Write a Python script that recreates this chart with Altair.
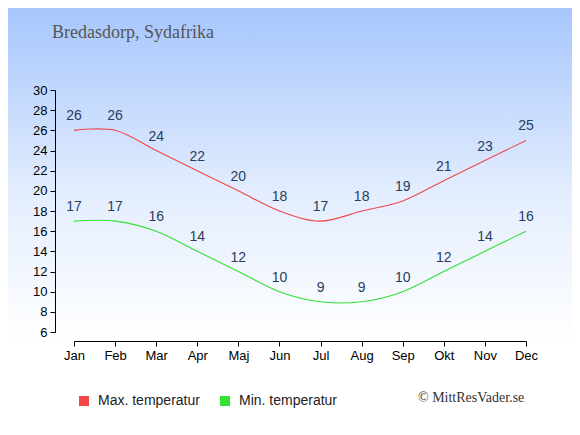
import altair as alt
import pandas as pd

months = ["Jan", "Feb", "Mar", "Apr", "Maj", "Jun", "Jul", "Aug", "Sep", "Okt", "Nov", "Dec"]
max_temp = [26, 26, 24, 22, 20, 18, 17, 18, 19, 21, 23, 25]
min_temp = [17, 17, 16, 14, 12, 10, 9, 9, 10, 12, 14, 16]
series_names = ["Max. temperatur", "Min. temperatur"]
series_colors = ["#f04848", "#33e033"]
y_ticks = list(range(6, 31, 2))
title_text = "Bredasdorp, Sydafrika"
credit_text = "© MittResVader.se"

rows = []
for m, a, b in zip(months, max_temp, min_temp):
    rows.append({"month": m, "series": series_names[0], "legend": series_names[0], "temp": a})
    rows.append({"month": m, "series": series_names[1], "legend": series_names[1], "temp": b})
df = pd.DataFrame(rows)

W, H = 452, 242
PL, PT, PR, PB = 66, 82, 46, 95

xaxis = alt.Axis(title=None, labelAngle=0, offset=9, tickSize=5, labelPadding=3,
                 domainColor="black", tickColor="black", labelColor="black",
                 labelFont="Liberation Sans", labelFontSize=13, grid=False, zindex=2,
                 labelOverlap=False)
yaxis = alt.Axis(title=None, values=y_ticks, offset=19, tickSize=5, labelPadding=3,
                 domainColor="black", tickColor="black", labelColor="black",
                 labelFont="Liberation Sans", labelFontSize=13, grid=False, zindex=2,
                 labelOverlap=False, labelFlush=False)
xenc = alt.X("month:N", sort=months, scale=alt.Scale(type="point", padding=0), axis=xaxis)
yenc = alt.Y("temp:Q", scale=alt.Scale(domain=[6, 30], nice=False, zero=False), axis=yaxis)

bg = alt.Chart(pd.DataFrame({"a": [0]})).mark_rect(
    fill={"gradient": "linear", "x1": 0, "y1": 0, "x2": 0, "y2": 1,
          "stops": [{"offset": 0, "color": "#a6c6fc"},
                    {"offset": 0.45, "color": "#e4eefe"},
                    {"offset": 0.8, "color": "#ffffff"},
                    {"offset": 1, "color": "#ffffff"}]}
).encode(x=alt.value(-PL), x2=alt.value(W + PR), y=alt.value(-PT), y2=alt.value(H + PB))

base = alt.Chart(df)

lines = base.mark_line(interpolate="cardinal", strokeWidth=1.1).encode(
    x=xenc, y=yenc,
    stroke=alt.Stroke("series:N", scale=alt.Scale(domain=series_names, range=series_colors), legend=None),
    detail="series:N",
)

legend_layer = base.mark_square(size=0, filled=True).encode(
    x=xenc, y=yenc,
    fill=alt.Fill("legend:N", scale=alt.Scale(domain=series_names, range=series_colors),
                  legend=alt.Legend(title=None, orient="none", legendX=3, legendY=304,
                                    direction="horizontal", symbolType="square", symbolSize=100,
                                    symbolOpacity=1, symbolStrokeWidth=0, labelFont="Liberation Sans",
                                    labelFontSize=14, labelColor="#222222", labelOffset=7,
                                    columnPadding=18, padding=0, zindex=2)),
)

labels = base.mark_text(dy=-14, baseline="middle", align="center", font="Liberation Sans",
                        fontSize=14, color="#2b3d5e").encode(
    x=xenc, y=yenc, text="temp:Q")

title = alt.Chart(pd.DataFrame({"t": [title_text]})).mark_text(
    align="left", baseline="alphabetic", font="Liberation Serif", fontSize=18, color="#555555"
).encode(x=alt.value(52 - 74), y=alt.value(38 - 90), text="t:N")

credit = alt.Chart(pd.DataFrame({"t": [credit_text]})).mark_text(
    align="left", baseline="alphabetic", font="Liberation Serif", fontSize=14, color="#333333"
).encode(x=alt.value(418 - 74), y=alt.value(402 - 90), text="t:N")

chart = alt.layer(bg, lines, legend_layer, labels, title, credit).properties(
    width=W, height=H,
    autosize=alt.AutoSizeParams(type="none"),
    padding={"left": PL, "top": PT, "right": PR, "bottom": PB},
).resolve_scale(fill="independent", stroke="independent").configure_view(
    stroke=None
).configure_axis(labelOverlap=False).configure(background="white")

chart.save("out.html", embed_options={"renderer": "svg", "actions": False})
